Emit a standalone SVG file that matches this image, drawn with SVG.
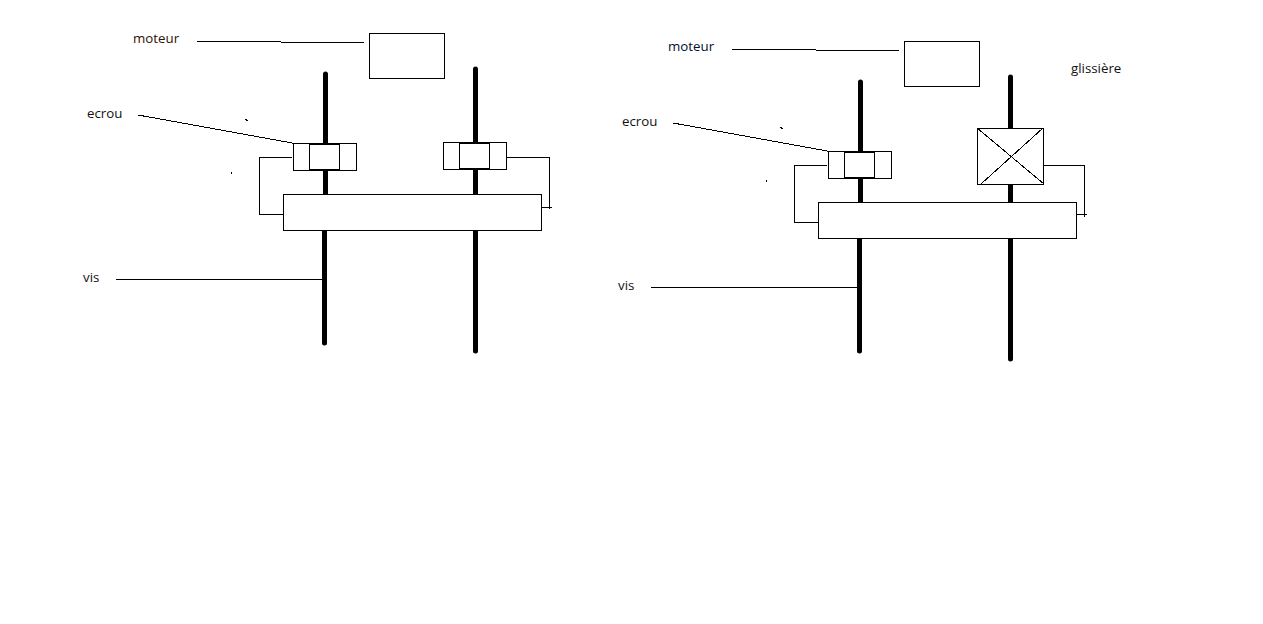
<svg xmlns="http://www.w3.org/2000/svg" width="1263" height="624" viewBox="0 0 1263 624">
<style>
text{font-family:"Open Sans","Noto Sans","Liberation Sans",sans-serif;font-size:13.300px;fill:#111}
.b{fill:#fff;stroke:#000;stroke-width:1}
.w{fill:none;stroke:#000;stroke-width:1;shape-rendering:crispEdges}
.s{fill:none;stroke:#000;stroke-width:5;stroke-linecap:round}
</style>
<defs>
<g id="specks"><rect x="245" y="119" width="2" height="1"/><rect x="246" y="120" width="2" height="1"/><rect x="231" y="172" width="1" height="2"/></g>
</defs>
<rect width="1263" height="624" fill="#fff"/>
<g id="connectors">
<g id="shafts">
<path class="s" d="M325.500 74V194M324.500 231V343"/>
<path class="s" d="M475.500 69V194M475.500 231V351"/>
<path class="s" d="M860.500 82V202M859.500 239V351"/>
<path class="s" d="M1010.500 77V202M1010.500 239V359"/>
</g>
<g id="leaders">
<path class="w" d="M197 41.500H281M281 42.500H364M116 279.500H322"/>
<path class="w" d="M732 49.500H816M816 50.500H899M651 287.500H857"/>
<path class="w" d="M138 115L295 143.500M673 123L830 151.500"/>
</g>
<g id="links">
<path class="w" d="M292 157.500H259.500V214.500H283"/>
<path class="w" d="M507 157.500H550M549.500 157V209M542 207.500H552"/>
<path class="w" d="M827 165.500H794.500V222.500H818"/>
<path class="w" d="M1044 165.500H1085M1084.500 165V217M1077 214.500H1087"/>
</g>
</g>
<g id="moteur-1"><rect class="b" x="369.500" y="33.500" width="75" height="45"/></g>
<g id="moteur-2"><rect class="b" x="904.500" y="41.500" width="75" height="45"/></g>
<g id="ecrou-1"><rect class="b" x="293.500" y="143.500" width="63" height="27"/><rect class="b" x="309.500" y="144.500" width="30" height="25"/></g>
<g id="ecrou-2"><rect class="b" x="443.500" y="142.500" width="63" height="27"/><rect class="b" x="459.500" y="143.500" width="30" height="25"/></g>
<g id="ecrou-3"><rect class="b" x="828.500" y="151.500" width="63" height="27"/><rect class="b" x="844.500" y="152.500" width="30" height="25"/></g>
<g id="glissiere-box"><rect class="b" x="977.500" y="128.500" width="66" height="56"/><path class="w" d="M977 128L1044 184M981 184L1043 128"/></g>
<g id="plateau-1"><rect class="b" x="283.500" y="194.500" width="258" height="36"/></g>
<g id="plateau-2"><rect class="b" x="818.500" y="202.500" width="258" height="36"/></g>
<g id="labels">
<text x="133" y="43" style="fill:#301000">moteur</text>
<text x="87" y="118">ecrou</text>
<text x="83" y="282">vis</text>
<text x="668" y="51" style="fill:#001030">moteur</text>
<text x="622" y="126">ecrou</text>
<text x="618" y="290">vis</text>
<text x="1071" y="73">glissière</text>
</g>
<use href="#specks"/>
<use href="#specks" x="535" y="8"/>
</svg>
